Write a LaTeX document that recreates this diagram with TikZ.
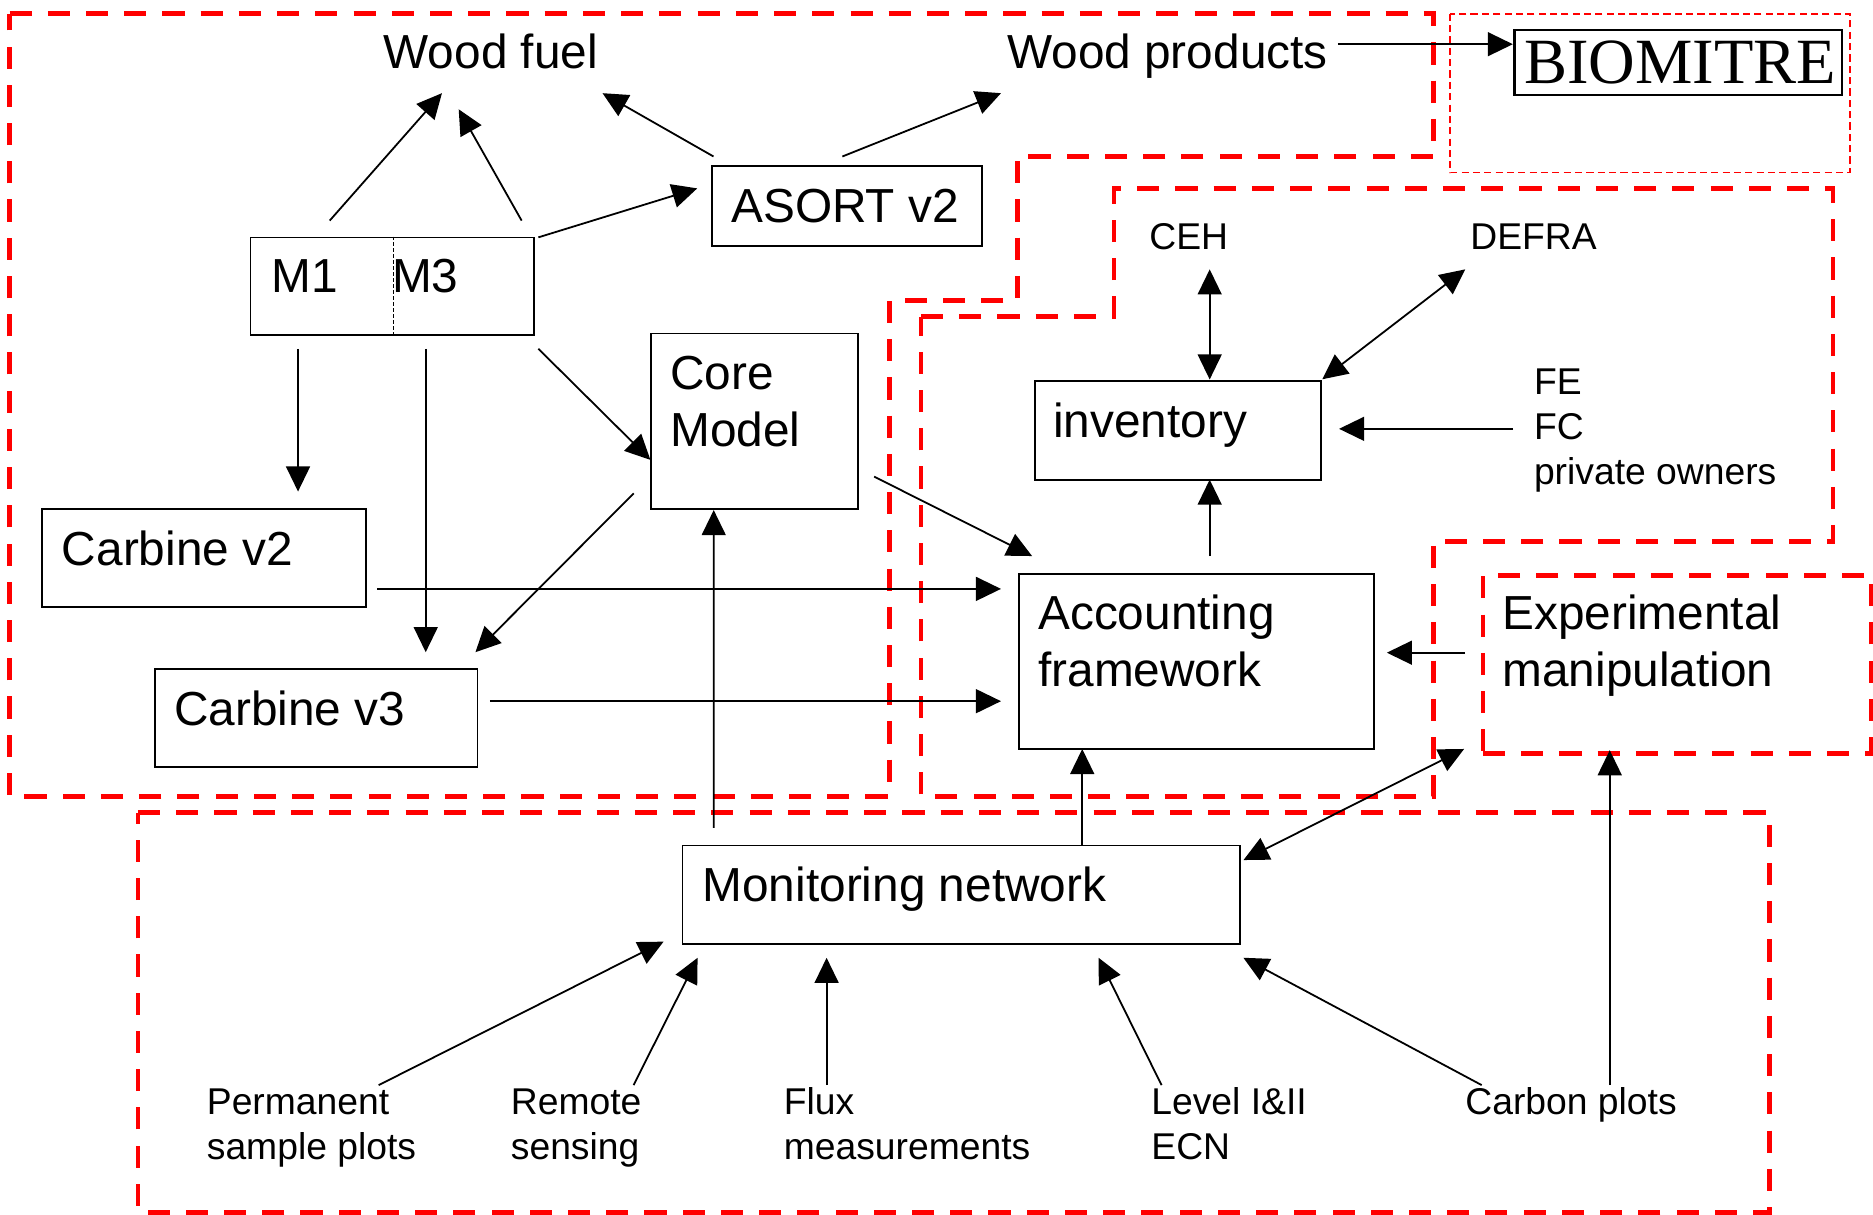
\documentclass[tikz,border=0pt]{standalone}
\usepackage{fontspec}
\setmainfont{Liberation Sans}
\newfontfamily\serifface{Liberation Serif}
\usetikzlibrary{arrows.meta}

\begin{document}
\begin{tikzpicture}[x=1pt,y=-1pt,
  box/.style={draw, line width=1.5pt, inner sep=0pt, anchor=north west},
  bigtext/.style={inner sep=0pt, anchor=base west, align=left, font=\fontsize{40}{48}\selectfont},
  smalltext/.style={inner sep=0pt, anchor=base west, align=left, font=\fontsize{31.2}{38}\selectfont},
  arr/.style={line width=1.5pt, -{Triangle[length=21pt,width=20pt]}},
  dblarr/.style={line width=1.5pt, {Triangle[length=21pt,width=20pt]}-{Triangle[length=21pt,width=20pt]}},
  zone/.style={draw=red, line width=4pt, dash pattern=on 18.5pt off 13.5pt, line join=miter},
  thinzone/.style={draw=red, line width=1.3pt, dash pattern=on 6pt off 3.5pt},
]
\useasboundingbox (0,0) rectangle (1568,1017);

% ---- grouping zones ----
\draw[zone] (8,11.5) -- (1200,11.5) -- (1200,131) -- (851.5,131) -- (851.5,251.5)
  -- (744.5,251.5) -- (744.5,666.5) -- (8,666.5) -- cycle;
\draw[zone] (771,265) -- (932.5,265) -- (932.5,158) -- (1534.5,158) -- (1534.5,453)
  -- (1200,453) -- (1200,666.5) -- (771,666.5) -- cycle;
\draw[zone] (115.5,680.5) -- (1481.5,680.5) -- (1481.5,1015) -- (115.5,1015) -- cycle;
\draw[thinzone] (1214,11.5) rectangle (1548.5,144.5);
\node[zone, anchor=north west, inner sep=0pt, minimum width=325pt, minimum height=149pt]
  (expzone) at (1239.5,479.5) {};
% multi-line labels are placed by the baseline of their last line
\node[bigtext] (exptxt) at (1257.6,575) {Experimental\\manipulation};

% ---- model boxes ----
\node[box, minimum width=237pt, minimum height=82pt] (mbox) at (209,198) {};
\draw[line width=0.9pt, dash pattern=on 3.3pt off 1.7pt]
  ([shift={(120.5,0)}]mbox.north west) -- ([shift={(120.5,0)}]mbox.south west);
\node[bigtext] (mone) at (227,245) {M1};
\node[bigtext] (mthree) at (328,245) {M3};

\node[box, minimum width=226pt, minimum height=67pt] (asort) at (595,138) {};
\node[bigtext] (asorttxt) at (612,186) {ASORT v2};

\node[box, minimum width=173pt, minimum height=147pt] (core) at (544.5,278.5) {};
\node[bigtext] (coretxt) at (561,374) {Core\\Model};

\node[box, minimum width=271pt, minimum height=82pt] (cbtwo) at (34.5,425.5) {};
\node[bigtext] (cbtwotxt) at (51.7,473) {Carbine v2};

\node[box, minimum width=270pt, minimum height=82pt] (cbthree) at (129,559.5) {};
\node[bigtext] (cbthreetxt) at (145.6,607) {Carbine v3};

\node[box, minimum width=239.5pt, minimum height=82.5pt] (inv) at (865.5,318.5) {};
\node[bigtext] (invtxt) at (881.6,366) {inventory};

\node[box, minimum width=297.5pt, minimum height=146.5pt] (acc) at (852,479.5) {};
\node[bigtext] (acctxt) at (869,575) {Accounting\\framework};

\node[box, minimum width=467pt, minimum height=82.5pt] (mon) at (570.6,707) {};
\node[bigtext] (montxt) at (588,755) {Monitoring network};

\node[box, line width=1.7pt, minimum width=274.5pt, minimum height=54pt] (bio) at (1267,24.3) {};
\node[inner sep=0pt, anchor=base west, font=\serifface\fontsize{54}{60}\selectfont]
  (biotxt) at (1276,69.8) {BIOMITRE};

% ---- free labels ----
\node[bigtext] (woodfuel) at (321,57) {Wood fuel};
\node[bigtext] (woodprod) at (843,57) {Wood products};
\node[smalltext] (ceh) at (962,209) {CEH};
\node[smalltext] (defra) at (1230.7,209) {DEFRA};
\node[smalltext] (owners) at (1284,406) {FE\\FC\\private owners};
\node[smalltext] (perm) at (173,971) {Permanent\\sample plots};
\node[smalltext] (remote) at (427.5,971) {Remote\\sensing};
\node[smalltext] (flux) at (656,971) {Flux\\measurements};
\node[smalltext] (level) at (963.7,971) {Level I\&II\\ECN};
\node[smalltext] (carbon) at (1226.6,933) {Carbon plots};

% ---- connectors ----
\draw[arr] ([shift={(67,-13.3)}]mbox.north west) -- ([shift={(49,21)}]woodfuel.base west);
\draw[arr] ([shift={(227.7,-13.3)}]mbox.north west) -- ([shift={(63,34.5)}]woodfuel.base west);
\draw[arr] ([shift={(2.3,-7)}]asort.north west) -- ([shift={(183.4,21)}]woodfuel.base west);
\draw[arr] ([shift={(110.2,-7)}]asort.north west) -- ([shift={(-5,21)}]woodprod.base west);
\draw[arr] ([shift={(241.7,0.7)}]mbox.north west) -- ([shift={(-11.3,19.7)}]asort.north west);
\draw[arr] ([shift={(277,-20)}]woodprod.base west) -- ([shift={(-0.5,12.7)}]bio.north west);

\draw[arr] ([shift={(40.5,94)}]mbox.north west) -- ([shift={(215,-14)}]cbtwo.north west);
\draw[arr] ([shift={(147.4,94)}]mbox.north west) -- ([shift={(227.4,-13.5)}]cbthree.north west);
\draw[arr] ([shift={(241.7,94)}]mbox.north west) -- ([shift={(0,106.5)}]core.north west);
\draw[arr] ([shift={(-14,134.5)}]core.north west) -- ([shift={(269,-13.5)}]cbthree.north west);
\draw[arr] ([shift={(187.3,120.5)}]core.north west) -- ([shift={(12,-14)}]acc.north west);
\draw[arr] ([shift={(281.5,67.5)}]cbtwo.north west) -- ([shift={(-14,13.5)}]acc.north west);
\draw[arr] ([shift={(281,27.5)}]cbthree.north west) -- ([shift={(-14,107.5)}]acc.north west);
\draw[arr] ([shift={(27,-14)}]mon.north west) -- ([shift={(53,148.5)}]core.north west);

\draw[arr] ([shift={(160.7,-14)}]acc.north west) -- ([shift={(147.2,83)}]inv.north west);
\draw[dblarr] ([shift={(50.7,16.5)}]ceh.base west) -- ([shift={(147.2,-0.8)}]inv.north west);
\draw[dblarr] ([shift={(-4.1,16.5)}]defra.base west) -- ([shift={(241.5,-1)}]inv.north west);
\draw[arr] ([shift={(-17.3,-47)}]owners.base west) -- ([shift={(255.5,40.5)}]inv.north west);
\draw[arr] ([shift={(-12.9,66.9)}]expzone.north west) -- ([shift={(309,66.9)}]acc.north west);
\draw[arr] ([shift={(335.4,0)}]mon.north west) -- ([shift={(54,147.5)}]acc.north west);
\draw[dblarr] ([shift={(470.4,13)}]mon.north west) -- ([shift={(-13.8,147.5)}]expzone.north west);
\draw[arr] ([shift={(121,-24.6)}]carbon.base west) -- ([shift={(108.1,148.5)}]expzone.north west);

\draw[arr] ([shift={(144,-62.6)}]perm.base west) -- ([shift={(-15.1,81.3)}]mon.north west);
\draw[arr] ([shift={(102.9,-62.6)}]remote.base west) -- ([shift={(13.4,94.8)}]mon.north west);
\draw[arr] ([shift={(36,-62.6)}]flux.base west) -- ([shift={(121.4,94.8)}]mon.north west);
\draw[arr] ([shift={(8.7,-62.6)}]level.base west) -- ([shift={(349.1,94.8)}]mon.north west);
\draw[arr] ([shift={(13.8,-24.6)}]carbon.base west) -- ([shift={(470.3,94.8)}]mon.north west);
\end{tikzpicture}
\end{document}
